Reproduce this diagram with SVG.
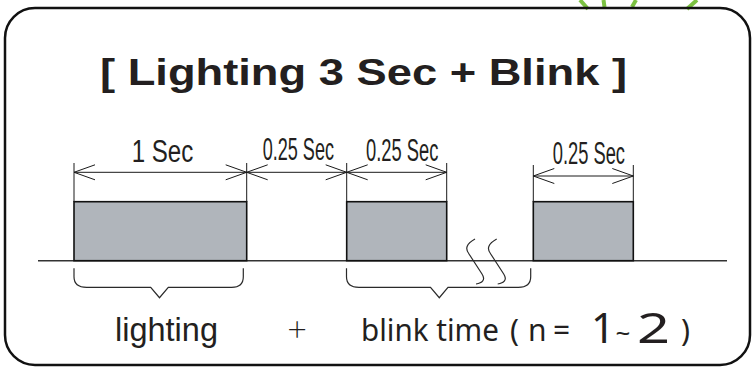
<svg xmlns="http://www.w3.org/2000/svg" width="752" height="367" viewBox="0 0 752 367">
<style>
.dim{fill:none;stroke:#1a1a1a;stroke-width:1}
.ext{stroke:#1a1a1a;stroke-width:1}
.box{fill:#b0b5bb;stroke:#111;stroke-width:1.6}
.br{fill:none;stroke:#2a2a2a;stroke-width:1.2}
.lbl{font-family:"Liberation Sans",Arial,sans-serif;font-size:31px;fill:#231f20}
.bt{font-family:"Noto Sans","Open Sans",sans-serif;fill:#231f20}
.green{stroke:#7cc242;stroke-width:4;stroke-linecap:butt}
</style>
<rect width="752" height="367" fill="#fff"/>
<g id="sparks">
<line class="green" x1="580" y1="0" x2="588" y2="9"/>
<line class="green" x1="603.5" y1="0" x2="604.5" y2="7"/>
<line class="green" x1="636" y1="0" x2="632" y2="7"/>
<line class="green" x1="697" y1="0" x2="687" y2="9"/>
</g>
<g id="frame">
<rect x="5" y="8" width="745" height="357" rx="30" ry="30" fill="none" stroke="#111" stroke-width="2.5"/>
</g>
<g id="title">
<text x="100" y="85" font-family="Liberation Sans,Arial,sans-serif" font-weight="bold" font-size="37" fill="#231f20" textLength="527" lengthAdjust="spacingAndGlyphs">[ Lighting 3 Sec + Blink ]</text>
</g>
<g id="baseline">
<line x1="38" y1="260.7" x2="727" y2="260.7" stroke="#333" stroke-width="1.5"/>
</g>
<g id="pulse1"><rect class="box" x="74" y="201.7" width="172.7" height="59"/></g>
<g id="pulse2"><rect class="box" x="346.7" y="201.7" width="100" height="59"/></g>
<g id="pulse3"><rect class="box" x="533.3" y="201.7" width="100" height="59"/></g>
<g id="connectors">
<line class="ext" x1="74" y1="163" x2="74" y2="202"/>
<line class="ext" x1="246.7" y1="163" x2="246.7" y2="202"/>
<line class="ext" x1="346.7" y1="163" x2="346.7" y2="202"/>
<line class="ext" x1="446.7" y1="163" x2="446.7" y2="202"/>
<line class="ext" x1="533.3" y1="165" x2="533.3" y2="202"/>
<line class="ext" x1="633.3" y1="165" x2="633.3" y2="202"/>
<line class="dim" x1="74" y1="172.3" x2="446.7" y2="172.3"/>
<polyline class="dim" points="95,164.8 74,172.3 95,179.8"/>
<polyline class="dim" points="225.7,164.8 246.7,172.3 225.7,179.8"/>
<polyline class="dim" points="267.7,164.8 246.7,172.3 267.7,179.8"/>
<polyline class="dim" points="325.7,164.8 346.7,172.3 325.7,179.8"/>
<polyline class="dim" points="367.7,164.8 346.7,172.3 367.7,179.8"/>
<polyline class="dim" points="425.7,164.8 446.7,172.3 425.7,179.8"/>
<line class="dim" x1="533.3" y1="176" x2="633.3" y2="176"/>
<polyline class="dim" points="554.3,168.5 533.3,176 554.3,183.5"/>
<polyline class="dim" points="612.3,168.5 633.3,176 612.3,183.5"/>
<path class="br" d="M475,239 C466,244 465,249 469,254 L482,274 C486,280 482,283 476,284"/>
<path class="br" d="M496.7,239 C487.7,244 486.7,249 490.7,254 L503.7,274 C507.7,280 503.7,283 497.7,284"/>
<path class="br" d="M74,268.3 V276.7 Q74,287.3 86.7,287.3 H150.7 L159.5,297.7 L168.3,287.3 H231.7 Q243.3,287.3 243.3,276.7 V268.3"/>
<path class="br" d="M346.5,268.3 V276.7 Q346.5,287.3 359,287.3 H430.5 L439.3,297.7 L448,287.3 H518.3 Q530.7,287.3 530.7,276.7 V268.3"/>
</g>
<g id="labels">
<text class="lbl" transform="translate(131.7,162) scale(0.777,1)">1 Sec</text>
<text class="lbl" transform="translate(262.7,159.5) scale(0.583,1)">0.25 Sec</text>
<text class="lbl" transform="translate(366,161) scale(0.591,1)">0.25 Sec</text>
<text class="lbl" transform="translate(552.7,163.5) scale(0.591,1)">0.25 Sec</text>
</g>
<g id="formula">
<text x="115" y="341" font-family="Liberation Sans,Arial,sans-serif" font-size="34" fill="#231f20" textLength="103" lengthAdjust="spacingAndGlyphs">lighting</text>
<text x="297" y="341" font-family="Lato,sans-serif" font-weight="300" font-size="34" fill="#231f20" text-anchor="middle">+</text>
<text class="bt" x="361" y="341" font-size="30" textLength="138" lengthAdjust="spacingAndGlyphs">blink time</text>
<text class="bt" x="510" y="341" font-size="30">(</text>
<text class="bt" x="528" y="341" font-size="30">n</text>
<text class="bt" x="553" y="341" font-size="30">=</text>
<text class="bt" x="603" y="343" font-size="42" text-anchor="middle">1</text>
<text class="bt" x="623" y="342" font-size="26" text-anchor="middle">~</text>
<text class="bt" x="637" y="343" font-size="42" textLength="33" lengthAdjust="spacingAndGlyphs">2</text>
<text class="bt" x="681" y="341" font-size="30">)</text>
</g>
</svg>
